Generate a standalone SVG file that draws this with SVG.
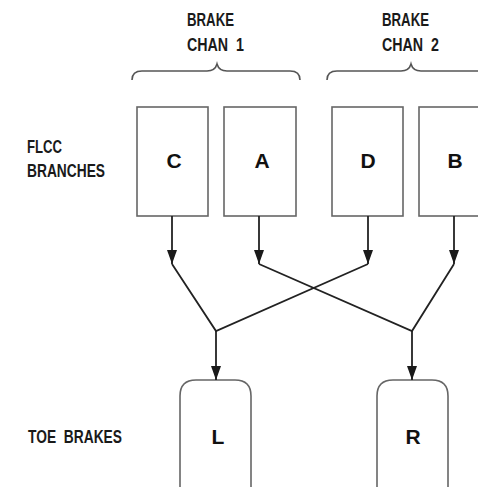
<svg xmlns="http://www.w3.org/2000/svg" width="478" height="487" viewBox="0 0 478 487">
<defs>
<marker id="ah" markerWidth="14" markerHeight="10" refX="14" refY="5" orient="auto" markerUnits="userSpaceOnUse" viewBox="0 0 14 10">
<path d="M0,0 L14,5 L0,10 Z" fill="#1a1a1a"/>
</marker>
</defs>
<style>
.lbl{font-family:"Liberation Sans Narrow","Liberation Sans",Arial,sans-serif;font-size:18.5px;font-weight:bold;fill:#1a1a1a;white-space:pre}
.ltr{font-family:"Liberation Sans",Arial,sans-serif;font-size:21px;font-weight:bold;fill:#111;text-anchor:middle}
.box{fill:#fff;stroke:#666;stroke-width:1.6}
.con{fill:none;stroke:#222;stroke-width:1.8}
.brace{fill:none;stroke:#555;stroke-width:1.6}
</style>
<rect width="478" height="487" fill="#fff"/>
<g id="labels" xml:space="preserve">
<text class="lbl" x="187" y="25.5" textLength="47" lengthAdjust="spacingAndGlyphs">BRAKE</text>
<text class="lbl" x="187" y="51" textLength="57" lengthAdjust="spacingAndGlyphs">CHAN  1</text>
<text class="lbl" x="382" y="25.5" textLength="47" lengthAdjust="spacingAndGlyphs">BRAKE</text>
<text class="lbl" x="382" y="51" textLength="57" lengthAdjust="spacingAndGlyphs">CHAN  2</text>
<text class="lbl" x="27" y="153" textLength="35" lengthAdjust="spacingAndGlyphs">FLCC</text>
<text class="lbl" x="27" y="177" textLength="78" lengthAdjust="spacingAndGlyphs">BRANCHES</text>
<text class="lbl" x="28" y="443" textLength="94" lengthAdjust="spacingAndGlyphs">TOE  BRAKES</text>
</g>
<g id="braces">
<path class="brace" d="M132,80 Q132,71 142,71 L207,71 Q215,71 217,64 Q219,71 227,71 L290,71 Q300,71 300,80"/>
<path class="brace" d="M327,80 Q327,71 337,71 L401,71 Q409,71 411,64 Q413,71 421,71 L490,71"/>
</g>
<g id="node-C">
<rect class="box" x="137" y="107" width="71" height="109"/>
<text class="ltr" x="174" y="168">C</text>
</g>
<g id="node-A">
<rect class="box" x="224" y="107" width="72" height="109"/>
<text class="ltr" x="262" y="168">A</text>
</g>
<g id="node-D">
<rect class="box" x="332" y="107" width="71" height="109"/>
<text class="ltr" x="368" y="168">D</text>
</g>
<g id="node-B">
<rect class="box" x="419" y="107" width="72" height="109"/>
<text class="ltr" x="455" y="168">B</text>
</g>
<g id="node-L">
<path class="box" d="M180,490 L180,396 Q180,380 196,380 L235,380 Q251,380 251,396 L251,490"/>
<text class="ltr" x="218" y="444">L</text>
</g>
<g id="node-R">
<path class="box" d="M377,490 L377,396 Q377,380 393,380 L432,380 Q448,380 448,396 L448,490"/>
<text class="ltr" x="413" y="444">R</text>
</g>
<g id="connectors">
<line class="con" x1="172" y1="216" x2="172" y2="264" marker-end="url(#ah)"/>
<line class="con" x1="259" y1="216" x2="259" y2="264" marker-end="url(#ah)"/>
<line class="con" x1="368" y1="216" x2="368" y2="264" marker-end="url(#ah)"/>
<line class="con" x1="454" y1="216" x2="454" y2="264" marker-end="url(#ah)"/>
<polyline class="con" points="172,264 216,331 368,264"/>
<polyline class="con" points="259,264 412,331 454,264"/>
<line class="con" x1="216" y1="331" x2="216" y2="380" marker-end="url(#ah)"/>
<line class="con" x1="412" y1="331" x2="412" y2="380" marker-end="url(#ah)"/>
</g>
</svg>
